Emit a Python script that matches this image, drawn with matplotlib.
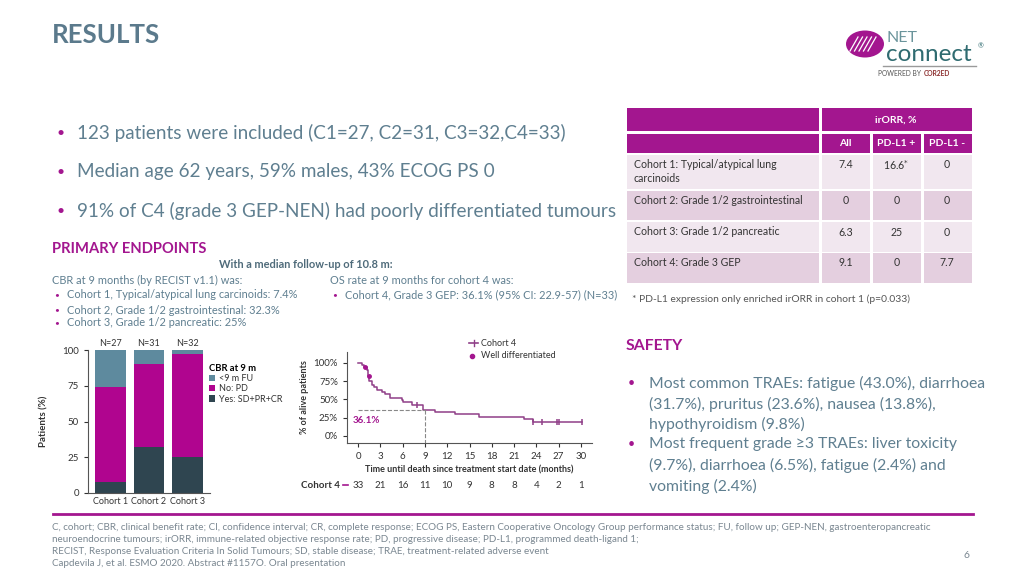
import matplotlib
matplotlib.use("Agg")
from matplotlib import pyplot as plt
from matplotlib import patches, transforms
from matplotlib.lines import Line2D
import numpy as np

plt.rcParams['font.family'] = ['Lato', 'DejaVu Sans']

## DATA
cohorts = ['Cohort 1', 'Cohort 2', 'Cohort 3']
n_labels = ['N=27', 'N=31', 'N=32']
cbr_yes = [7.4, 32.3, 25.0]
cbr_pd = [66.7, 58.1, 71.9]
cbr_fu = [25.9, 9.6, 3.1]

km_times = [0, 0.5, 0.8, 1.2, 1.35, 1.5, 1.9, 2.1, 2.6, 3.2, 3.6, 4.3, 5.9, 6.1,
            7.2, 8.7, 10.4, 13.0, 16.3, 22.4, 23.5, 30.1]
km_surv = [100, 97.0, 93.9, 90.9, 81.8, 75.8, 69.7, 66.7, 63.6, 60.6, 57.6, 52.5,
           49.3, 46.1, 42.5, 36.1, 33.0, 29.9, 26.5, 23.2, 19.6, 19.6]
censor_times = [7.9, 23.6, 24.8, 26.8, 27.0, 30.1]
well_diff_times = [0.9, 1.4]
risk_times = [0, 3, 6, 9, 12, 15, 18, 21, 24, 27, 30]
at_risk = [33, 21, 16, 11, 10, 9, 8, 8, 4, 2, 1]
os9 = 36.1

table_rows = ['Cohort 1: Typical/atypical lung\ncarcinoids', 'Cohort 2: Grade 1/2 gastrointestinal',
              'Cohort 3: Grade 1/2 pancreatic', 'Cohort 4: Grade 3 GEP']
orr_all = ['7.4', '0', '6.3', '9.1']
orr_pos = ['16.6$^{*}$', '0', '25', '0']
orr_neg = ['0', '0', '0', '7.7']

top_bullets = ['123 patients were included (C1=27, C2=31, C3=32,C4=33)',
               'Median age 62 years, 59% males, 43% ECOG PS 0',
               '91% of C4 (grade 3 GEP-NEN) had poorly differentiated tumours']
cbr_bullets = ['Cohort 1, Typical/atypical lung carcinoids: 7.4%',
               'Cohort 2, Grade 1/2 gastrointestinal: 32.3%',
               'Cohort 3, Grade 1/2 pancreatic: 25%']
safety_lines = [('•', 'Most common TRAEs: fatigue (43.0%), diarrhoea'),
                ('', '(31.7%), pruritus (23.6%), nausea (13.8%),'),
                ('', 'hypothyroidism (9.8%)'),
                ('•', 'Most frequent grade ≥3 TRAEs: liver toxicity'),
                ('', '(9.7%), diarrhoea (6.5%), fatigue (2.4%) and'),
                ('', 'vomiting (2.4%)')]
footer = ['C, cohort; CBR, clinical benefit rate; CI, confidence interval; CR, complete response; ECOG PS, Eastern Cooperative Oncology Group performance status; FU, follow up; GEP-NEN, gastroenteropancreatic',
          'neuroendocrine tumours; irORR, immune-related objective response rate; PD, progressive disease; PD-L1, programmed death-ligand 1;',
          'RECIST, Response Evaluation Criteria In Solid Tumours; SD, stable disease; TRAE, treatment-related adverse event',
          'Capdevila J, et al. ESMO 2020. Abstract #1157O. Oral presentation']

## STYLE
W, H = 1024, 576
SLATE = '#5f7f90'
DARKSLATE = '#4f6b7a'
MAGENTA = '#a3168f'
KMCOL = '#8f3f88'
FU_COL = '#5e8a9e'
PD_COL = '#b0058f'
YES_COL = '#2f4550'

fig = plt.figure(figsize=(10.24, 5.76), dpi=100)
fig.patch.set_facecolor('white')


def ftext(x, y, s, **kw):
    kw.setdefault('va', 'center')
    return fig.text(x / W, 1 - y / H, s, **kw)


def fax(x0, y0, x1, y1):
    return fig.add_axes([x0 / W, 1 - y1 / H, (x1 - x0) / W, (y1 - y0) / H])


def frect(x0, y0, x1, y1, color):
    fig.add_artist(patches.Rectangle((x0 / W, 1 - y1 / H), (x1 - x0) / W, (y1 - y0) / H,
                                     transform=fig.transFigure, facecolor=color, edgecolor='none'))


def fline(xs, ys, **kw):
    fig.add_artist(Line2D([x / W for x in xs], [1 - y / H for y in ys], transform=fig.transFigure, **kw))


## TITLE + BULLETS
ftext(52, 35, 'RESULTS', fontsize=18.5, fontweight='bold', color='#5b7a8c')
for y, s in zip([133, 172, 211], top_bullets):
    ftext(56, y, '•', fontsize=10, color=MAGENTA)
    ftext(77, y, s, fontsize=13.6, color=SLATE)

ftext(52, 249, 'PRIMARY ENDPOINTS', fontsize=10.6, fontweight='bold', color=MAGENTA)
ftext(306, 265, 'With a median follow-up of 10.8 m:', ha='center', fontsize=7.9, fontweight='bold', color=DARKSLATE)
ftext(52, 280, 'CBR at 9 months (by RECIST v1.1) was:', fontsize=7.9, color=SLATE)
for y, s in zip([295, 310, 323], cbr_bullets):
    ftext(54, y, '•', fontsize=6, color=MAGENTA)
    ftext(67, y, s, fontsize=7.9, color=SLATE)
ftext(330, 280, 'OS rate at 9 months for cohort 4 was:', fontsize=7.9, color=SLATE)
ftext(332, 295, '•', fontsize=6, color=MAGENTA)
ftext(345, 295, 'Cohort 4, Grade 3 GEP: 36.1% (95% CI: 22.9-57) (N=33)', fontsize=7.9, color=SLATE)

## BAR CHART
ax = fax(88, 350, 210, 493)
x = np.arange(len(cohorts))
bw = 0.81
ax.bar(x, cbr_yes, bw, color=YES_COL, label='Yes: SD+PR+CR')
ax.bar(x, cbr_pd, bw, bottom=cbr_yes, color=PD_COL, label='No: PD')
ax.bar(x, cbr_fu, bw, bottom=np.add(cbr_yes, cbr_pd), color=FU_COL, label='<9 m FU')
ax.set_xlim(-0.6, 2.6)
ax.set_ylim(0, 100)
ax.set_yticks([0, 25, 50, 75, 100])
ax.set_xticks(x)
ax.set_xticklabels(cohorts, fontsize=6.5, color='#333333')
ax.tick_params(axis='x', length=0, pad=3)
ax.tick_params(axis='y', labelsize=7, length=3, colors='#333333')
for s in ['top', 'right']:
    ax.spines[s].set_visible(False)
ax.spines['left'].set_color('#555555')
ax.spines['bottom'].set_color('#555555')
ax.set_ylabel('Patients (%)', fontsize=7, fontweight='bold', color='#333333', labelpad=10)
for xi, n in zip(x, n_labels):
    ax.text(xi, 101.5, n, ha='center', va='bottom', fontsize=6.5, color='#333333')
h, l = ax.get_legend_handles_labels()
leg = fig.legend(h[::-1], l[::-1], title='CBR at 9 m', loc='upper left',
                 bbox_to_anchor=(204 / W, 1 - 359 / H), frameon=False, fontsize=6.5,
                 title_fontproperties={'weight': 'bold', 'size': 6.8},
                 handlelength=0.7, handleheight=0.7, handletextpad=0.5,
                 labelspacing=0.15, borderpad=0, alignment='left')
for t in leg.get_texts():
    t.set_color('#333333')

## KAPLAN-MEIER
km = fax(347, 352, 592, 443)


def surv_at(t):
    i = np.searchsorted(km_times, t, side='right') - 1
    return km_surv[i]


km.step(km_times, km_surv, where='post', color=KMCOL, lw=1.1)
km.plot(censor_times, [surv_at(t) for t in censor_times], ls='none', marker='|',
        ms=5, mew=1.1, color=KMCOL)
km.plot(well_diff_times, [surv_at(t) for t in well_diff_times], ls='none', marker='o',
        ms=2.5, color=MAGENTA)
km.plot([0, 9], [os9, os9], ls='--', color='#888888', lw=0.8)
km.plot([9, 9], [os9, -9.6], ls='--', color='#888888', lw=0.8)
km.text(-0.8, 21, f'{os9}%', fontsize=7, fontweight='bold', color=MAGENTA, va='center')
km.set_xlim(-1.5, 31.5)
km.set_ylim(-9.6, 115)
km.set_xticks(risk_times)
km.set_yticks([0, 25, 50, 75, 100])
km.set_yticklabels([f'{v}%' for v in [0, 25, 50, 75, 100]])
km.tick_params(labelsize=7, length=3, colors='#333333')
for s in ['top', 'right']:
    km.spines[s].set_visible(False)
km.spines['left'].set_color('#555555')
km.spines['bottom'].set_color('#555555')
km.set_xlabel('Time until death since treatment start date (months)', fontsize=6.5,
              fontweight='bold', color='#333333', labelpad=3)
km.set_ylabel('% of alive patients', fontsize=6.5, fontweight='bold', color='#333333', labelpad=3)

trans = transforms.blended_transform_factory(km.transData, fig.transFigure)
for t, n in zip(risk_times, at_risk):
    km.text(t, 1 - 485 / H, str(n), transform=trans, ha='center', va='center',
            fontsize=7, color='#333333')
ftext(340, 486, 'Cohort 4', ha='right', fontsize=7, fontweight='bold', color='#333333')
fline([343, 348], [485, 485], color=MAGENTA, lw=1.2)

# KM legend
fline([469, 478], [343, 343], color=KMCOL, lw=1.2)
fline([473.5, 473.5], [340, 346], color=KMCOL, lw=1.0)
ftext(481, 343, 'Cohort 4', fontsize=6.5, color='#333333')
fig.add_artist(Line2D([472 / W], [1 - 356 / H], marker='o', ms=3, color=MAGENTA,
                      transform=fig.transFigure))
ftext(481, 356, 'Well differentiated', fontsize=6.5, color='#333333')

## TABLE
cols = [627, 820, 871, 922, 972]
g = 1.5
frect(cols[0], 108, cols[1] - g, 131, MAGENTA)
frect(cols[1] + g, 108, cols[4], 131, MAGENTA)
ftext((cols[1] + cols[4]) / 2, 120, 'irORR, %', ha='center', fontsize=7.5, fontweight='bold', color='white')
frect(cols[0], 134, cols[1] - g, 153, MAGENTA)
for i, h_txt in enumerate(['All', 'PD-L1 +', 'PD-L1 -']):
    frect(cols[i + 1] + g, 134, cols[i + 2] - (g if i < 2 else 0), 153, MAGENTA)
    ftext((cols[i + 1] + cols[i + 2]) / 2, 144, h_txt, ha='center', fontsize=7.5,
          fontweight='bold', color='white')
row_y = [(155, 189), (191, 220), (222, 252), (253, 283)]
row_col = ['#f1e7ef', '#e4cfdf', '#f1e7ef', '#e4cfdf']
for (y0, y1), rc, name, a, p, n in zip(row_y, row_col, table_rows, orr_all, orr_pos, orr_neg):
    bounds = [(cols[0], cols[1] - g), (cols[1] + g, cols[2] - g), (cols[2] + g, cols[3] - g), (cols[3] + g, cols[4])]
    for bx0, bx1 in bounds:
        frect(bx0, y0, bx1, y1, rc)
    ftext(634, y0 + 4, name, va='top', fontsize=7.6, color='#333333', linespacing=1.3)
    for k, v in enumerate([a, p, n]):
        ftext((cols[k + 1] + cols[k + 2]) / 2, y0 + 10, v, ha='center', fontsize=7.6, color='#333333')
ftext(632, 299, '* PD-L1 expression only enriched irORR in cohort 1 (p=0.033)', fontsize=7.4, color='#555555')

## SAFETY
ftext(626, 346, 'SAFETY', fontsize=11.3, fontweight='bold', color=MAGENTA)
for y, (b, s) in zip([383, 404, 424, 444, 465, 486], safety_lines):
    if b:
        ftext(628, y, b, fontsize=9, color=MAGENTA)
    ftext(649, y, s, fontsize=11.3, color=SLATE)

## FOOTER
fline([53, 973], [514, 514], color=MAGENTA, lw=2)
for y, s in zip([527, 539, 551, 563], footer):
    ftext(52, y, s, fontsize=7.1, color='#7a8791')
ftext(970, 556, '6', ha='right', fontsize=7.5, color='#7a8791')

## LOGO
fig.add_artist(patches.Ellipse((865 / W, 1 - 44 / H), 38 / W, 27 / H, transform=fig.transFigure,
                               facecolor=MAGENTA, edgecolor='none'))
for dx in [-9, -4.5, 0, 4.5, 9]:
    fline([859 + dx, 867 + dx], [51, 37], color='white', lw=0.9)
ftext(886, 42, 'NET', va='baseline', fontsize=11.5, color='#6a949b')
ftext(886, 61, 'connect', va='baseline', fontsize=17.5, color='#2f6b70')
ftext(978, 46, '®', fontsize=5, color='#2f6b70')
fline([883, 976], [66, 66], color='#9a9a9a', lw=1)
ftext(921, 74, 'POWERED BY', ha='right', fontsize=4.8, color='#555555')
ftext(924, 74, 'COR2ED', ha='left', fontsize=4.8, fontweight='bold', color='#8a2a2a')

fig.savefig('out.png', dpi=100, facecolor='white')
